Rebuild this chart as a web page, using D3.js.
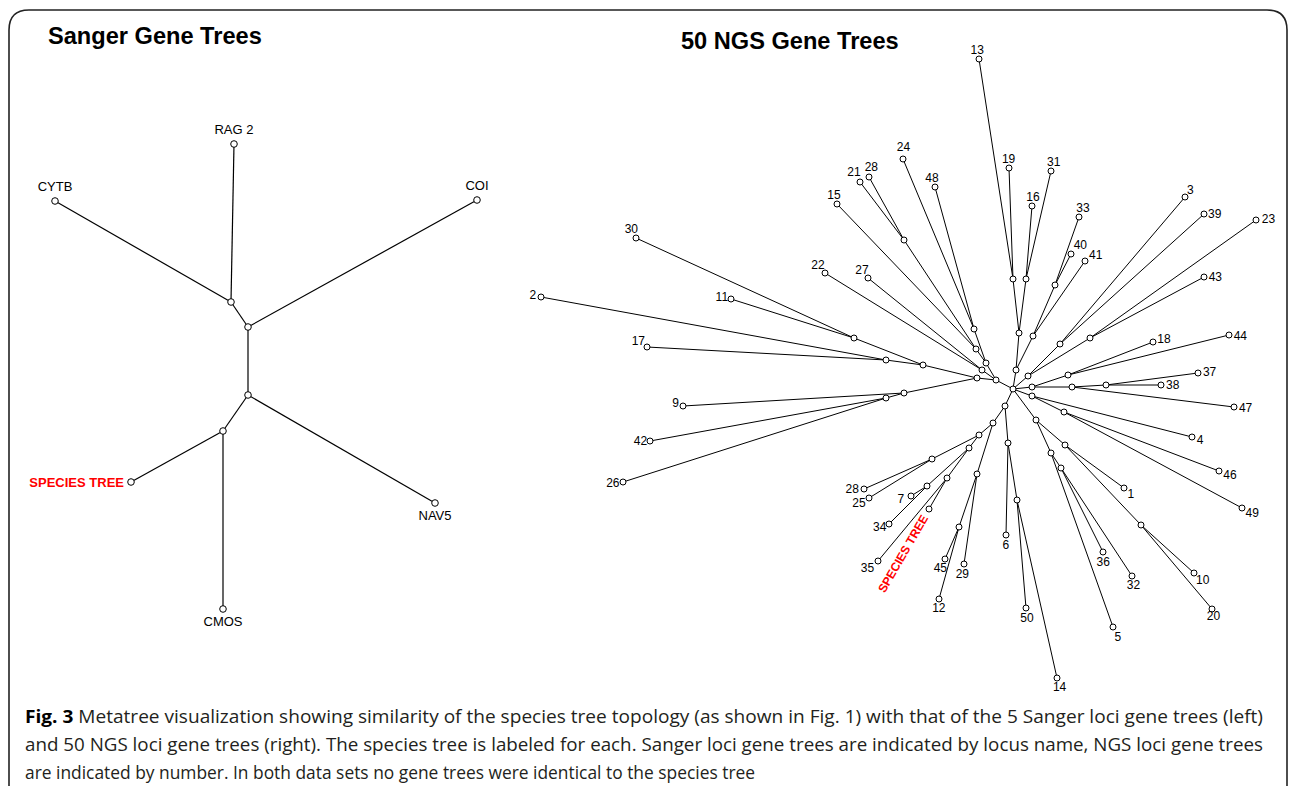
<!DOCTYPE html>
<html>
<head>
<meta charset="utf-8">
<script src="https://cdn.jsdelivr.net/npm/d3@7"></script>
<style>
  body { margin: 0; background: #fff; }
  svg { display: block; }
</style>
</head>
<body>
<script>
// Sanger metatree (5 loci + species tree), coordinates relative to centre node
var sangerIds     = [ 'C', 'B', 'A', 'RAG2', 'CYTB', 'COI', 'D', 'SP', 'NAV5', 'CMOS' ];
var sangerLabels  = [ '', '', '', 'RAG 2', 'CYTB', 'COI', '', 'SPECIES TREE', 'NAV5', 'CMOS' ];
var sangerParents = [ null, 'C', 'B', 'A', 'A', 'B', 'C', 'D', 'C', 'D' ];
var sangerX       = [ 0, 0, -17, -14, -193, 229, -25, -117, 187, -25 ];
var sangerY       = [ 0, -68, -93, -251, -194, -195, 36, 87, 108, 214 ];
var sangerSide    = { RAG2: 'above', CYTB: 'above', COI: 'above', SP: 'left', NAV5: 'below', CMOS: 'below' };

// NGS metatree (50 loci + species tree), coordinates relative to centre node
var ngsIds = [
    'R','n1','n2','n3','L13','L19','n4','L16','L31','n5','L41','n6','L33','L40',
    'n7','n8','L3','L39','n9','L23','L43',
    'n10','n11','L18','L44','n12','n13','L37','L38','L47',
    'n14','L4','n15','L46','L49',
    'n16','n17','L1','n18','L10','L20','n19','L5','n20','L36','L32',
    'a','n21','L6','n22','L50','L14','b','d','L29','e','L45','L12',
    'c','f','L28b','L25','g','h','L7','L34','i','L35','SP',
    'p','q','n23','n24','L30','L11','n25','L2','L17','n26','L9','n27','L42','L26',
    'r','u','L48','L24','t','n28','L21','L28a','L15','s','L22','L27'
];
var ngsLabels = [
    '','','','','13','19','','16','31','','41','','33','40',
    '','','3','39','','23','43',
    '','','18','44','','','37','38','47',
    '','4','','46','49',
    '','','1','','10','20','','5','','36','32',
    '','','6','','50','14','','','29','','45','12',
    '','','28','25','','','7','34','','35','SPECIES TREE',
    '','','','','30','11','','2','17','','9','','42','26',
    '','','48','24','','','21','28','15','','22','27'
];
var ngsParents = [
    null,'R','n1','n2','n3','n3','n2','n4','n4','n1','n5','n5','n6','n6',
    'R','n7','n8','n8','n7','n9','n9',
    'R','n10','n11','n11','n10','n12','n13','n13','n12',
    'R','n14','n14','n15','n15',
    'R','n16','n17','n17','n18','n18','n16','n19','n19','n20','n20',
    'R','a','n21','n21','n22','n22','a','b','d','d','e','e',
    'b','c','f','f','c','g','h','h','g','i','i',
    'R','p','q','n23','n24','n24','n23','n25','n25','q','n26','n26','n27','n27',
    'p','r','u','u','r','t','n28','n28','t','p','s','s'
];
var ngsX = [
    0,3,6,0,-34,-4,13,19,38,20,72,42,66,58,
    15,47,172,191,77,243,191,
    19,55,140,216,59,93,185,148,221,
    19,179,51,206,229,
    23,52,111,128,181,199,38,100,48,90,119,
    -8,-5,-7,4,13,44,-20,-36,-49,-54,-68,-74,
    -34,-81,-149,-144,-44,-86,-102,-124,-66,-135,-84,
    -17,-36,-90,-159,-377,-282,-127,-472,-366,-109,-330,-127,-363,-390,
    -27,-39,-78,-110,-37,-109,-153,-144,-176,-31,-188,-145
];
var ngsY = [
    0,-19,-56,-110,-330,-221,-110,-183,-218,-53,-128,-104,-172,-135,
    -13,-45,-192,-175,-51,-169,-112,
    -2,-14,-47,-54,-2,-4,-16,-4,18,
    7,48,23,82,119,
    31,56,99,136,184,220,64,238,79,163,187,
    17,54,146,111,219,289,34,85,175,138,170,210,
    46,70,100,109,59,97,107,135,89,172,120,
    -9,-11,-24,-51,-151,-90,-29,-92,-42,4,17,9,52,93,
    -26,-60,-202,-230,-40,-149,-207,-212,-185,-19,-116,-111
];

var titles = [ 'Sanger Gene Trees', '50 NGS Gene Trees' ];
var captionLines = [
    [ 'Fig. 3', ' Metatree visualization showing similarity of the species tree topology (as shown in Fig. 1) with that of the 5 Sanger loci gene trees (left)' ],
    [ '', 'and 50 NGS loci gene trees (right). The species tree is labeled for each. Sanger loci gene trees are indicated by locus name, NGS loci gene trees' ],
    [ '', 'are indicated by number. In both data sets no gene trees were identical to the species tree' ]
];

// hand placement tweaks for crowded labels (pixels)
var labelNudge = {
    L28a: [ 8, -2 ], L21: [ 1, -3 ], L30: [ 6, -5 ], L20: [ -6, 0 ], L36: [ -5, 1 ], L32: [ -5, 1 ],
    L17: [ 3, -6 ], L28b: [ -1, -4 ], L24: [ 5, -3 ], L15: [ 5, -2 ], L9: [ 1, -4 ], L34: [ -1, -4 ],
    L40: [ 4, -1 ], L41: [ 4, 2 ], L39: [ 2, 6 ], L23: [ 3, 4 ], L43: [ 1, 4 ], L44: [ 0, 3 ],
    L12: [ 3, 0 ], L22: [ 3, -3 ], L27: [ 3, -2 ], L7: [ -3, -2 ], L35: [ -3, -1 ], L5: [ 2, 1 ],
    L26: [ 1, -2 ], L42: [ 2, -2 ], L11: [ 2, 1 ]
};

var W = 1292, H = 786,
    font = 'Liberation Sans, Arial, Helvetica, sans-serif',
    SPECIES = 'SPECIES TREE';

var svg = d3.select( 'body' )
    .append( 'svg' )
    .attr( 'width', W )
    .attr( 'height', H );

// frame
svg.append( 'path' )
    .attr( 'd', 'M9,800 V30 Q9,10 29,10 H1267 Q1287,10 1287,30 V800' )
    .attr( 'fill', 'none' )
    .attr( 'stroke', '#222' )
    .attr( 'stroke-width', 1.6 );

// titles
[ [ 48, 44 ], [ 681, 49 ] ].forEach( function( p, i ){
    svg.append( 'text' )
        .attr( 'x', p[ 0 ] )
        .attr( 'y', p[ 1 ] )
        .attr( 'font-family', font )
        .attr( 'font-weight', 'bold' )
        .attr( 'font-size', 23.6 )
        .attr( 'fill', '#000' )
        .text( titles[ i ] );
} );

function buildNodes( ids, labels, parents, xs, ys ){
    var nodes = ids.map( function( id, i ){
        return { id: id, label: labels[ i ], parent: parents[ i ], x: xs[ i ], y: ys[ i ] };
    } );
    var byId = {};
    nodes.forEach( function( n ){ byId[ n.id ] = n; } );
    nodes.forEach( function( n ){ n.p = n.parent ? byId[ n.parent ] : null; } );
    return nodes;
}

function drawTree( g, nodes, xScale, yScale, r, sw ){
    g.selectAll( 'line.edge' )
        .data( nodes.filter( function( n ){ return n.p; } ) )
        .join( 'line' )
        .attr( 'class', 'edge' )
        .attr( 'x1', function( n ){ return xScale( n.p.x ); } )
        .attr( 'y1', function( n ){ return yScale( n.p.y ); } )
        .attr( 'x2', function( n ){ return xScale( n.x ); } )
        .attr( 'y2', function( n ){ return yScale( n.y ); } )
        .attr( 'stroke', '#000' )
        .attr( 'stroke-width', sw );

    g.selectAll( 'circle.node' )
        .data( nodes )
        .join( 'circle' )
        .attr( 'class', 'node' )
        .attr( 'cx', function( n ){ return xScale( n.x ); } )
        .attr( 'cy', function( n ){ return yScale( n.y ); } )
        .attr( 'r', r )
        .attr( 'fill', '#fff' )
        .attr( 'stroke', '#000' )
        .attr( 'stroke-width', 1 );
}

//////////////////////////////////////////
// Sanger tree

var sx = d3.scaleLinear().domain( [ -300, 300 ] ).range( [ -52, 548 ] ),
    sy = d3.scaleLinear().domain( [ -300, 300 ] ).range( [ 95, 695 ] ),
    sangerNodes = buildNodes( sangerIds, sangerLabels, sangerParents, sangerX, sangerY ),
    gs = svg.append( 'g' );

drawTree( gs, sangerNodes, sx, sy, 3.3, 1.2 );

sangerNodes.filter( function( n ){ return n.label; } ).forEach( function( n ){
    var side = sangerSide[ n.id ],
        x = sx( n.x ), y = sy( n.y ),
        t = gs.append( 'text' )
            .attr( 'font-family', font )
            .attr( 'font-size', 13 )
            .text( n.label );
    if ( side === 'above' ) t.attr( 'x', x ).attr( 'y', y - 10 ).attr( 'text-anchor', 'middle' );
    if ( side === 'below' ) t.attr( 'x', x ).attr( 'y', y + 17 ).attr( 'text-anchor', 'middle' );
    if ( side === 'left' ) t.attr( 'x', x - 7 ).attr( 'y', y + 4.5 ).attr( 'text-anchor', 'end' );
    if ( n.label === SPECIES ) t.attr( 'fill', '#f00' ).attr( 'font-weight', 'bold' );
} );

//////////////////////////////////////////
// NGS tree

var nx = d3.scaleLinear().domain( [ -500, 500 ] ).range( [ 513, 1513 ] ),
    ny = d3.scaleLinear().domain( [ -500, 500 ] ).range( [ -111, 889 ] ),
    ngsNodes = buildNodes( ngsIds, ngsLabels, ngsParents, ngsX, ngsY ),
    gn = svg.append( 'g' );

drawTree( gn, ngsNodes, nx, ny, 3, 1 );

ngsNodes.filter( function( n ){ return n.label; } ).forEach( function( n ){
    var x = nx( n.x ), y = ny( n.y ),
        dx = n.x - n.p.x, dy = n.y - n.p.y,
        len = Math.hypot( dx, dy ),
        ux = dx / len, uy = dy / len;
    if ( n.label === SPECIES ){
        var ang = Math.atan2( -dy, -dx ) * 180 / Math.PI,
            px = x + ux * 8, py = y + uy * 8;
        gn.append( 'text' )
            .attr( 'transform', 'translate(' + px + ',' + py + ') rotate(' + ang + ')' )
            .attr( 'text-anchor', 'end' )
            .attr( 'dy', '0.35em' )
            .attr( 'font-family', font )
            .attr( 'font-weight', 'bold' )
            .attr( 'font-size', 12 )
            .attr( 'fill', '#f00' )
            .text( n.label );
        return;
    }
    var w = n.label.length * 6.7, h = 9,
        nudge = labelNudge[ n.id ] || [ 0, 0 ];
    gn.append( 'text' )
        .attr( 'x', x + ux * ( 5 + w / 2 ) + nudge[ 0 ] )
        .attr( 'y', y + uy * ( 5 + h / 2 ) + nudge[ 1 ] )
        .attr( 'dy', '0.35em' )
        .attr( 'text-anchor', 'middle' )
        .attr( 'font-family', font )
        .attr( 'font-size', 12 )
        .text( n.label );
} );

//////////////////////////////////////////
// Caption

var capWidths = [ 1238, 1238, 730 ];
captionLines.forEach( function( line, i ){
    var t = svg.append( 'text' )
        .attr( 'x', 25 )
        .attr( 'y', 723 + i * 28 )
        .attr( 'font-family', 'Open Sans, sans-serif' )
        .attr( 'font-size', 18 )
        .attr( 'fill', '#231f20' )
        .attr( 'textLength', capWidths[ i ] )
        .attr( 'lengthAdjust', 'spacingAndGlyphs' );
    if ( line[ 0 ] ) t.append( 'tspan' ).attr( 'font-weight', 'bold' ).attr( 'fill', '#000' ).text( line[ 0 ] );
    t.append( 'tspan' ).text( line[ 1 ] );
} );
</script>
</body>
</html>
